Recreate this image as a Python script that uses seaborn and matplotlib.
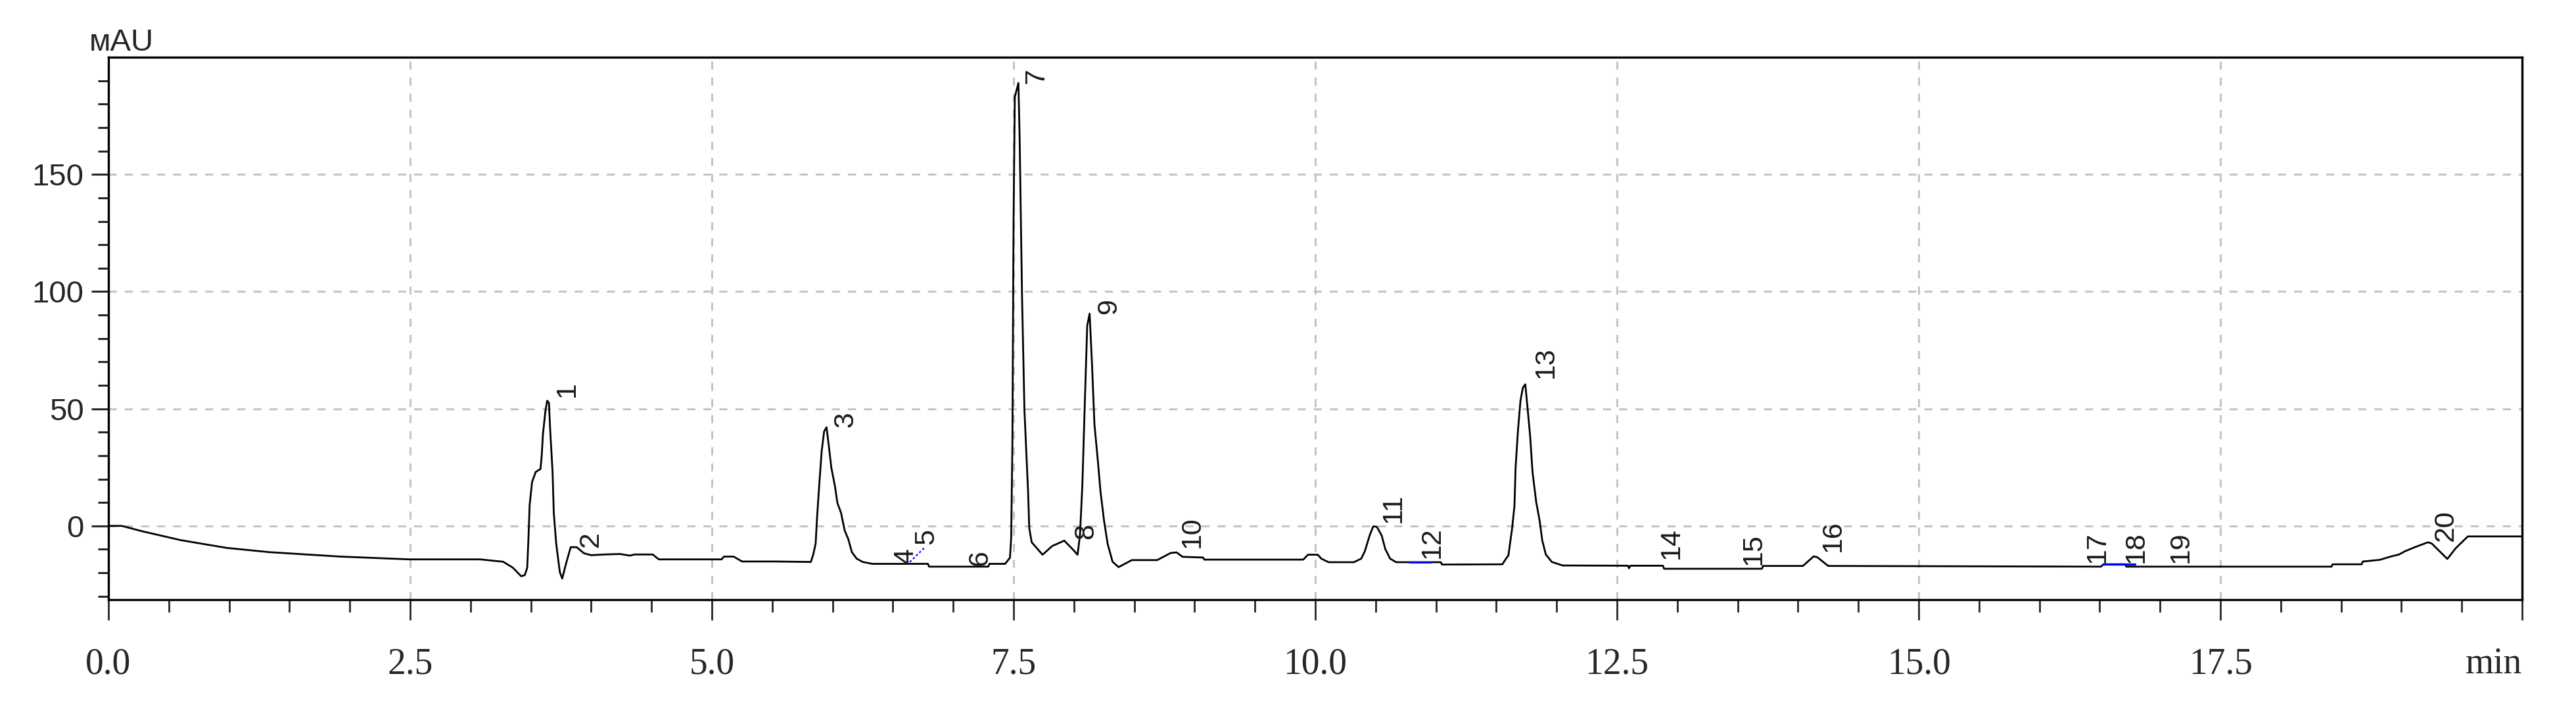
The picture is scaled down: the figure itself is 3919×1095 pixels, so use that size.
import matplotlib
matplotlib.use("Agg")
import numpy as np
import pandas as pd
import seaborn as sns
import matplotlib.pyplot as plt
from matplotlib.ticker import FixedLocator
from matplotlib import font_manager

# chromatogram trace (time in min, signal in mAU)
tempo = [0.00, 0.11, 0.28, 0.60, 0.98, 1.33, 1.92, 2.50, 3.08, 3.27,
         3.35, 3.42, 3.45, 3.47, 3.48, 3.49, 3.51, 3.54, 3.58, 3.59,
         3.60, 3.62, 3.635, 3.65, 3.66, 3.68, 3.69, 3.71, 3.74, 3.76,
         3.79, 3.83, 3.88, 3.94, 4.00, 4.11, 4.24, 4.32, 4.36, 4.51,
         4.56, 5.08, 5.10, 5.18, 5.25, 5.53, 5.82, 5.84, 5.86, 5.87,
         5.89, 5.91, 5.93, 5.95, 5.97, 5.99, 6.02, 6.04, 6.07, 6.10,
         6.13, 6.16, 6.20, 6.25, 6.33, 6.79, 6.80, 7.29, 7.30, 7.43,
         7.47, 7.48, 7.49, 7.50, 7.51, 7.54, 7.55, 7.57, 7.59, 7.62,
         7.63, 7.65, 7.74, 7.82, 7.92, 7.99, 8.03, 8.05, 8.07, 8.09,
         8.11, 8.13, 8.15, 8.17, 8.20, 8.22, 8.25, 8.28, 8.32, 8.37,
         8.48, 8.69, 8.80, 8.85, 8.90, 9.07, 9.08, 9.90, 9.94, 10.02,
         10.05, 10.11, 10.32, 10.38, 10.41, 10.45, 10.48, 10.51, 10.55, 10.58,
         10.62, 10.67, 11.04, 11.05, 11.55, 11.58, 11.60, 11.63, 11.65, 11.66,
         11.68, 11.70, 11.72, 11.74, 11.76, 11.78, 11.80, 11.83, 11.86, 11.88,
         11.91, 11.96, 12.05, 12.59, 12.60, 12.61, 12.88, 12.89, 13.70, 13.71,
         14.04, 14.13, 14.16, 14.25, 16.51, 16.53, 16.71, 16.72, 18.42, 18.43,
         18.67, 18.68, 18.82, 18.91, 18.98, 19.03, 19.12, 19.22, 19.25, 19.38,
         19.45, 19.55, 20.00]
sinal = [0.0, 0.0, -2.3, -6.1, -9.4, -11.2, -13.1, -14.3, -14.3, -15.3,
         -17.8, -21.5, -21.0, -17.8, -5.6, 8.9, 18.7, 23.0, 24.3, 30.0,
         39.0, 48.7, 53.4, 52.5, 41.2, 23.0, 5.6, -7.5, -19.7, -22.5,
         -16.4, -9.1, -9.1, -11.7, -12.5, -12.2, -12.0, -12.7, -12.2, -12.2,
         -14.3, -14.3, -13.1, -13.1, -15.2, -15.2, -15.4, -12.2, -7.5, 2.3,
         17.8, 32.0, 40.3, 42.1, 33.7, 24.8, 16.9, 9.8, 5.6, -1.9,
         -5.6, -11.2, -14.0, -15.4, -16.2, -16.2, -17.4, -17.4, -16.2, -16.2,
         -13.6, -5.0, 35.0, 132.0, 183.0, 189.0, 165.8, 98.0, 49.3, 14.7,
         -1.0, -7.0, -12.3, -8.6, -6.3, -10.0, -12.3, -4.0, 17.7, 52.3,
         85.4, 90.6, 68.8, 43.3, 26.8, 14.7, 2.0, -7.8, -15.3, -17.6,
         -14.6, -14.6, -11.6, -11.3, -13.2, -13.5, -14.4, -14.4, -12.3, -12.3,
         -14.0, -15.5, -15.5, -14.0, -10.9, -4.1, -0.2, -0.4, -4.1, -9.9,
         -14.0, -15.5, -15.5, -16.5, -16.4, -14.0, -12.6, -1.4, 8.4, 25.3,
         41.2, 53.4, 59.0, 60.4, 49.6, 38.4, 22.9, 10.3, 1.9, -6.1,
         -12.2, -15.4, -16.9, -17.0, -18.1, -17.0, -17.0, -18.3, -18.3, -17.1,
         -17.1, -13.0, -13.4, -17.1, -17.4, -16.4, -16.4, -17.4, -17.4, -16.4,
         -16.4, -15.2, -14.5, -13.1, -12.2, -10.8, -8.9, -7.0, -7.5, -14.1,
         -9.5, -4.5, -4.5]

# peak numbers and where their labels sit
picos = [str(i) for i in range(1, 21)]
picos_t = [3.69, 3.89, 6.00, 6.50, 6.67, 7.11, 7.58, 7.99, 8.18, 8.87,
           10.54, 10.86, 11.80, 12.84, 13.52, 14.18, 16.37, 16.69, 17.06, 19.26]
picos_v = [54.8, -9.0, 42.1, -16.1, -7.9, -16.9, 188.8, -5.6, 90.7, -9.3,
           1.3, -13.8, 63.2, -14.0, -16.6, -11.0, -15.9, -15.9, -15.9, -6.5]

# blue integration baselines / leader
base12_t = [10.78, 10.96]
base12_v = [-15.5, -15.5]
base18_t = [16.53, 16.79]
base18_v = [-16.4, -16.4]
guia5_t = [6.64, 6.77]
guia5_v = [-15.4, -8.9]

x_ticks = [0.0, 2.5, 5.0, 7.5, 10.0, 12.5, 15.0, 17.5, 20.0]
x_labels = ["0.0", "2.5", "5.0", "7.5", "10.0", "12.5", "15.0", "17.5", "min"]
y_ticks = [0, 50, 100, 150]

sns.set_style("white")
nomes = {f.name for f in font_manager.fontManager.ttflist}
sans = "Liberation Sans Narrow" if "Liberation Sans Narrow" in nomes else "Liberation Sans"
serif = "Liberation Serif"
plt.rcParams["font.family"] = [sans, "DejaVu Sans"]

df = pd.DataFrame({"t": tempo, "mAU": sinal})

fig = plt.figure(figsize=(39.19, 10.95), dpi=100)
ax = fig.add_axes([0.0421, 0.1671, 0.9370, 0.7534])

sns.lineplot(data=df, x="t", y="mAU", ax=ax, color="black", lw=2.0,
             sort=False, estimator=None)
ax.plot(base12_t, base12_v, color="#0000ff", lw=2.0)
ax.plot(base18_t, base18_v, color="#0000ff", lw=2.4)
ax.plot(guia5_t, guia5_v, color="#0000ff", lw=1.6, linestyle=(0, (1.5, 1.5)))

for p, t, v in zip(picos, picos_t, picos_v):
    ax.text(t, v, p, rotation=90, ha="left", va="bottom", fontsize=31,
            family=[sans, "DejaVu Sans"], color="#1a1a1a")

ax.set_xlim(0, 20)
ax.set_ylim(-31.5, 200)
ax.set_xlabel("")
ax.set_ylabel("")

ax.xaxis.set_major_locator(FixedLocator(x_ticks))
ax.xaxis.set_minor_locator(FixedLocator([i * 0.5 for i in range(41)]))
ax.set_xticklabels(x_labels, family=serif, fontsize=40)
ax.get_xticklabels()[-1].set_ha("right")
ax.yaxis.set_major_locator(FixedLocator(y_ticks))
ax.yaxis.set_minor_locator(FixedLocator([i * 10 for i in range(-3, 20)]))
ax.set_yticklabels([str(y) for y in y_ticks], fontsize=34)

ax.tick_params(axis="x", which="major", direction="out", length=22, width=2, pad=30, bottom=True)
ax.tick_params(axis="x", which="minor", direction="out", length=14, width=2, bottom=True)
ax.tick_params(axis="y", which="major", direction="out", length=19, width=2.2, pad=8, left=True)
ax.tick_params(axis="y", which="minor", direction="out", length=11.5, width=2.2, left=True)

ax.grid(True, which="major", color="#c4c4c4", lw=2.2, linestyle=(0, (4, 4)))
for s in ax.spines.values():
    s.set_visible(True)
    s.set_color("black")
    s.set_linewidth(2.4)

fig.text(136 / 3919, 1 - 77 / 1095, "мAU", fontsize=34, ha="left", va="baseline",
         family=[sans, "DejaVu Sans"])

fig.savefig("out.png", dpi=100, facecolor="white")
